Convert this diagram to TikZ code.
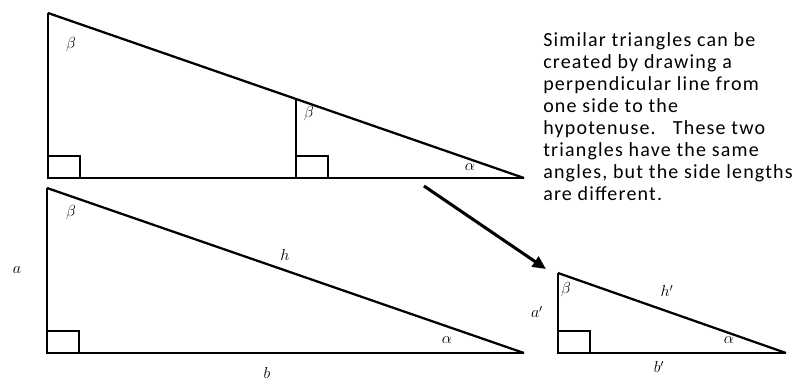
\documentclass[tikz,border=0pt]{standalone}
\usepackage{fontspec}
\setmainfont{Carlito}
\newfontfamily\notefont[LetterSpace=6]{Carlito}
\usetikzlibrary{arrows.meta}

\begin{document}
\begin{tikzpicture}[x=0.75pt,y=-0.75pt,leg/.style={line width=2.1pt},hyp/.style={line width=1.7pt},corner/.style={line width=1.7pt},angle/.style={font=\large,inner sep=0pt},side/.style={font=\large,inner sep=0pt},pointer/.style={line width=2.3pt,-{Triangle[length=10pt,width=9pt]}},note/.style={font=\notefont\fontsize{15}{16.5}\selectfont,align=left,anchor=north west,inner sep=0pt}]
\useasboundingbox (0,0) rectangle (801,383);
\coordinate (A) at (48,13);
\coordinate (B) at (48,178);
\coordinate (C) at (524,178);
\coordinate (D) at (296,99);
\coordinate (E) at (296,178);
\coordinate (F) at (47,188);
\coordinate (G) at (47,353);
\coordinate (H) at (524,353);
\coordinate (K) at (558,273);
\coordinate (L) at (558,353);
\coordinate (M) at (786,353);
\coordinate (P) at (424,186);
\coordinate (Q) at (546,269);
\draw[leg] (A) -- (B) -- (C);
\draw[hyp] (A) -- (C);
\draw[leg] (D) -- (E);
\draw[corner] (B) rectangle ++(32,-22);
\draw[corner] (E) rectangle ++(32,-22);
\draw[leg] (F) -- (G) -- (H);
\draw[hyp] (F) -- (H);
\draw[corner] (G) rectangle ++(32,-22);
\draw[leg] (K) -- (L) -- (M);
\draw[hyp] (K) -- (M);
\draw[corner] (L) rectangle ++(32,-22);
\draw[pointer] (P) -- (Q);
\node[angle] (beta1) at (71,44) {$\beta$};
\node[angle] (beta2) at (309,113) {$\beta$};
\node[angle] (alpha1) at (470,167) {$\alpha$};
\node[angle] (beta3) at (71,212) {$\beta$};
\node[angle] (alpha2) at (447,340) {$\alpha$};
\node[side] (a) at (17,270) {$a$};
\node[side] (h) at (285,255) {$h$};
\node[side] (b) at (267,373) {$b$};
\node[angle] (beta4) at (566,289) {$\beta$};
\node[angle] (alpha3) at (729,340) {$\alpha$};
\node[side] (a2) at (537,312) {$a'$};
\node[side] (h2) at (667,291) {$h'$};
\node[side] (b2) at (659,367) {$b'$};
\node[note] (txt) at (543,32) {Similar triangles can be\\created by drawing a\\perpendicular line from\\one side to the\\hypotenuse.\ \ \ These two\\triangles have the same\\angles, but the side lengths\\are different.};
\end{tikzpicture}
\end{document}
